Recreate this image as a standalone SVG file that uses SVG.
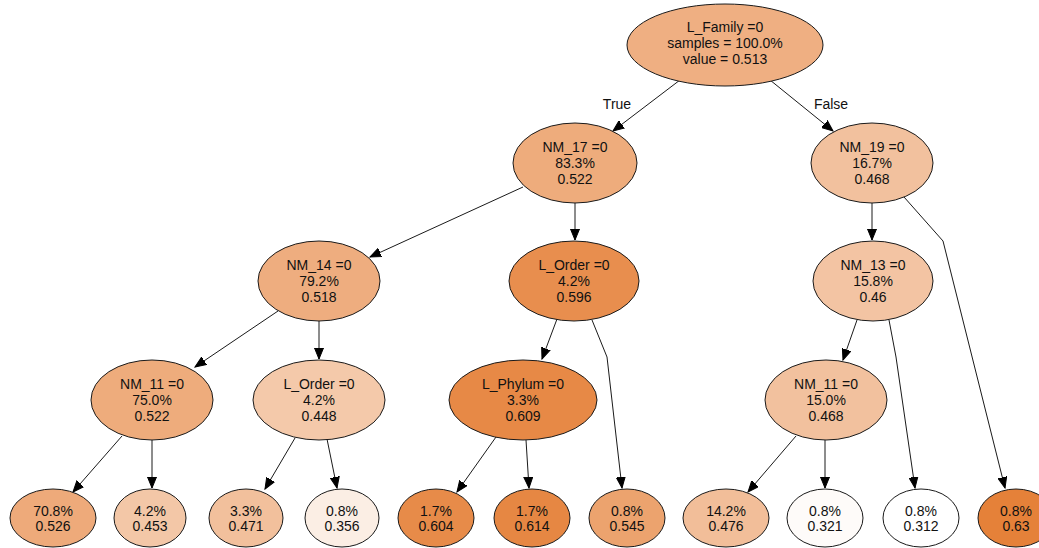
<svg xmlns="http://www.w3.org/2000/svg" width="1039" height="548" viewBox="0 0 1039 548">
<style>
.n ellipse{stroke:#1a1a1a;stroke-width:1}
text{font-family:"Liberation Sans",Arial,sans-serif;font-size:14px;fill:#111;text-anchor:middle}
.e path{fill:none;stroke:#1a1a1a;stroke-width:1;marker-end:url(#ah)}
</style>
<defs>
<marker id="ah" markerUnits="userSpaceOnUse" markerWidth="12" markerHeight="10" viewBox="0 0 12 10" refX="11" refY="5" orient="auto">
<path d="M0,0.5 L11,5 L0,9.5 Z" fill="#000" stroke="#000" stroke-width="1"/>
</marker>
</defs>
<rect width="1039" height="548" fill="#fff"/>
<g id="connectors" class="e">
<path d="M680,80 L613,131"/>
<path d="M770,80 L833,131"/>
<path d="M523,187 L370,257"/>
<path d="M575,203 L575,240"/>
<path d="M872,203 L872,240"/>
<path d="M904,197 L943,241 L1005,488"/>
<path d="M278,311 L195,367"/>
<path d="M319,321 L319,359"/>
<path d="M557,319 L542,359"/>
<path d="M592,320 L607,357 L622,488"/>
<path d="M857,320 L843,360"/>
<path d="M889,320 L896,357 L915,488"/>
<path d="M122,436 L73,492"/>
<path d="M152,440 L152,488"/>
<path d="M295,438 L265,489"/>
<path d="M327,439 L337,488"/>
<path d="M496,437 L457,492"/>
<path d="M526,440 L529,488"/>
<path d="M796,436 L748,492"/>
<path d="M825,440 L825,488"/>
<text x="617" y="109">True</text>
<text x="831" y="109">False</text>
</g>
<g id="n0" class="n"><ellipse cx="725" cy="45" rx="98" ry="41" fill="#efaf82"/><text x="725" y="32">L_Family =0</text><text x="725" y="48">samples = 100.0%</text><text x="725" y="64">value = 0.513</text></g>
<g id="n1" class="n"><ellipse cx="575" cy="163" rx="62" ry="40" fill="#eeac7c"/><text x="575" y="152">NM_17 =0</text><text x="575" y="168">83.3%</text><text x="575" y="184">0.522</text></g>
<g id="n2" class="n"><ellipse cx="872" cy="163" rx="61" ry="40" fill="#f2c19e"/><text x="872" y="152">NM_19 =0</text><text x="872" y="168">16.7%</text><text x="872" y="184">0.468</text></g>
<g id="n3" class="n"><ellipse cx="319" cy="281" rx="61" ry="40" fill="#eead7f"/><text x="319" y="270">NM_14 =0</text><text x="319" y="286">79.2%</text><text x="319" y="302">0.518</text></g>
<g id="n4" class="n"><ellipse cx="574" cy="281" rx="65" ry="40" fill="#e88e4e"/><text x="574" y="270">L_Order =0</text><text x="574" y="286">4.2%</text><text x="574" y="302">0.596</text></g>
<g id="n5" class="n"><ellipse cx="873" cy="281" rx="60" ry="40" fill="#f3c4a3"/><text x="873" y="270">NM_13 =0</text><text x="873" y="286">15.8%</text><text x="873" y="302">0.46</text></g>
<g id="n6" class="n"><ellipse cx="152" cy="400" rx="61" ry="40" fill="#eeac7c"/><text x="152" y="389">NM_11 =0</text><text x="152" y="405">75.0%</text><text x="152" y="421">0.522</text></g>
<g id="n7" class="n"><ellipse cx="319" cy="400" rx="66" ry="40" fill="#f4c9aa"/><text x="319" y="389">L_Order =0</text><text x="319" y="405">4.2%</text><text x="319" y="421">0.448</text></g>
<g id="n8" class="n"><ellipse cx="523" cy="400" rx="74" ry="40" fill="#e78946"/><text x="523" y="389">L_Phylum =0</text><text x="523" y="405">3.3%</text><text x="523" y="421">0.609</text></g>
<g id="n9" class="n"><ellipse cx="826" cy="400" rx="61" ry="40" fill="#f2c19e"/><text x="826" y="389">NM_11 =0</text><text x="826" y="405">15.0%</text><text x="826" y="421">0.468</text></g>
<g id="l0" class="n"><ellipse cx="53" cy="518" rx="43" ry="29" fill="#eeaa7a"/><text x="53" y="516">70.8%</text><text x="53" y="531">0.526</text></g>
<g id="l1" class="n"><ellipse cx="150" cy="518" rx="36" ry="29" fill="#f3c7a7"/><text x="150" y="516">4.2%</text><text x="150" y="531">0.453</text></g>
<g id="l2" class="n"><ellipse cx="246" cy="518" rx="37" ry="29" fill="#f2c09c"/><text x="246" y="516">3.3%</text><text x="246" y="531">0.471</text></g>
<g id="l3" class="n"><ellipse cx="342" cy="518" rx="37" ry="29" fill="#fbeee4"/><text x="342" y="516">0.8%</text><text x="342" y="531">0.356</text></g>
<g id="l4" class="n"><ellipse cx="436" cy="518" rx="38" ry="29" fill="#e78b49"/><text x="436" y="516">1.7%</text><text x="436" y="531">0.604</text></g>
<g id="l5" class="n"><ellipse cx="532" cy="518" rx="38" ry="29" fill="#e68743"/><text x="532" y="516">1.7%</text><text x="532" y="531">0.614</text></g>
<g id="l6" class="n"><ellipse cx="627" cy="518" rx="38" ry="29" fill="#eca36e"/><text x="627" y="516">0.8%</text><text x="627" y="531">0.545</text></g>
<g id="l7" class="n"><ellipse cx="726" cy="518" rx="43" ry="29" fill="#f2be99"/><text x="726" y="516">14.2%</text><text x="726" y="531">0.476</text></g>
<g id="l8" class="n"><ellipse cx="825" cy="518" rx="38" ry="29" fill="#fefbf9"/><text x="825" y="516">0.8%</text><text x="825" y="531">0.321</text></g>
<g id="l9" class="n"><ellipse cx="921" cy="518" rx="38" ry="29" fill="#ffffff"/><text x="921" y="516">0.8%</text><text x="921" y="531">0.312</text></g>
<g id="l10" class="n"><ellipse cx="1016" cy="518" rx="38" ry="29" fill="#e58139"/><text x="1016" y="516">0.8%</text><text x="1016" y="531">0.63</text></g>
</svg>
